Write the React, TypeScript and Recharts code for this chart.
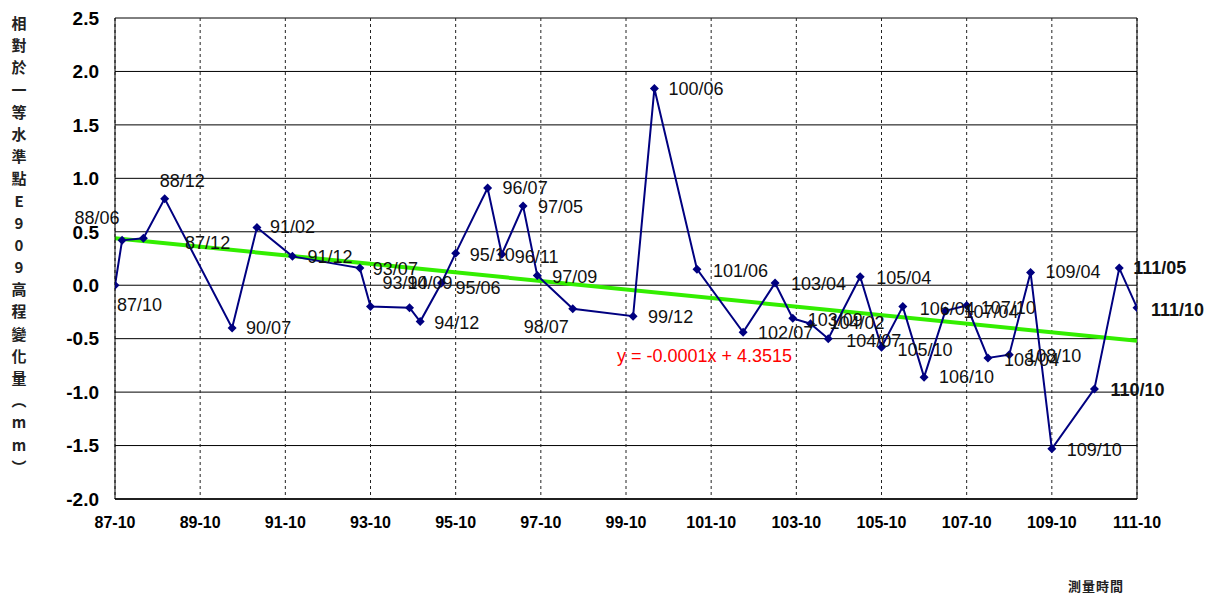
import React from "react";
import {
    LineChart,
    Line,
    XAxis,
    YAxis,
    CartesianGrid,
    ReferenceLine,
    LabelList,
} from "recharts";

// survey dates (ROC year / month) and elevation change (mm)
const dates = [
    "87/10", "87/12", "88/06", "88/12", "90/07", "91/02", "91/12", "93/07", "93/10", "94/09",
    "94/12", "95/06", "95/10", "96/07", "96/11", "97/05", "97/09", "98/07", "99/12", "100/06",
    "101/06", "102/07", "103/04", "103/09", "104/02", "104/07", "105/04", "105/10", "106/04", "106/10",
    "107/04", "107/10", "108/04", "108/10", "109/04", "109/10", "110/10", "111/05", "111/10",
];
const values = [
    0.0, 0.42, 0.44, 0.81, -0.4, 0.54, 0.27, 0.16, -0.2, -0.21,
    -0.34, 0.02, 0.3, 0.91, 0.29, 0.74, 0.09, -0.22, -0.29, 1.84,
    0.15, -0.44, 0.02, -0.31, -0.36, -0.5, 0.08, -0.58, -0.2, -0.86,
    -0.24, -0.19, -0.68, -0.65, 0.12, -1.53, -0.97, 0.16, -0.21,
];

// linear trend, read at both ends of the axis
const trendDates = ["87/10", "111/10"];
const trendValues = [0.44, -0.52];

const xTickLabels = [
    "87-10", "89-10", "91-10", "93-10", "95-10", "97-10", "99-10",
    "101-10", "103-10", "105-10", "107-10", "109-10", "111-10",
];
const yTicks = [-2.0, -1.5, -1.0, -0.5, 0.0, 0.5, 1.0, 1.5, 2.0, 2.5];

const yTitle = ["相", "對", "於", "一", "等", "水", "準", "點", "E", "9", "0", "9", "高", "程", "變", "化", "量", "︵", "m", "m", "︶"];
const xTitle = "測量時間";
const equation = "y = -0.0001x + 4.3515";

// months since 87/10
const toMonth = (s: string) => {
    const [y, m] = s.split(/[/-]/).map(Number);
    return (y - 87) * 12 + (m - 10);
};

const rows = dates.map((d, i) => ({ m: toMonth(d), v: values[i], label: d }));
const trendRows = trendDates.map((d, i) => ({ m: toMonth(d), t: trendValues[i] }));
const xTicks = xTickLabels.map(toMonth);

// where each data label sits relative to its marker [dx, dy]
const labelOffset: Record<string, [number, number]> = {
    "87/10": [2, 20], "87/12": [63, 3], "88/06": [-69, -20], "88/12": [-5, -18],
    "90/07": [14, 0], "91/02": [13, -1], "91/12": [15, 1], "93/07": [13, 1],
    "93/10": [12, -24], "94/09": [-2, -25], "94/12": [14, 1], "95/06": [14, 5],
    "95/10": [14, 2], "96/07": [15, 0], "96/11": [13, 3], "97/05": [15, 1],
    "97/09": [15, 1], "98/07": [-49, 18], "99/12": [15, 1], "100/06": [14, 0],
    "101/06": [16, 2], "102/07": [15, 1], "103/04": [16, 1], "103/09": [15, 2],
    "104/02": [19, -1], "104/07": [18, 2], "105/04": [16, 1], "105/10": [16, 3],
    "106/04": [17, 2], "106/10": [15, 0], "107/04": [18, 1], "107/10": [14, 2],
    "108/04": [16, 2], "108/10": [17, 1], "109/04": [15, 0], "109/10": [15, 1],
    "110/10": [16, 1], "111/05": [14, 0], "111/10": [14, 2],
};
const boldLabels = ["110/10", "111/05", "111/10"];

const Diamond = (props: any) => {
    const { cx, cy } = props;
    if (cx == null || cy == null) return null;
    const r = 4.5;
    return (
        <polygon
            points={`${cx},${cy - r} ${cx + r},${cy} ${cx},${cy + r} ${cx - r},${cy}`}
            fill="#000080"
        />
    );
};

const PointLabel = (props: any) => {
    const { x, y, value } = props;
    if (x == null || y == null) return null;
    const [dx, dy] = labelOffset[value] || [14, 0];
    return (
        <text
            x={x + dx}
            y={y + dy}
            dominantBaseline="central"
            fontSize={18}
            fontWeight={boldLabels.includes(value) ? 700 : 400}
            fill="#111"
            fontFamily="'Liberation Sans', Arial, sans-serif"
        >
            {value}
        </text>
    );
};

export default function App() {
    return (
        <div
            style={{
                position: "absolute",
                left: 0,
                top: 0,
                width: 1226,
                height: 596,
                background: "#fff",
                fontFamily: "'Liberation Sans', Arial, sans-serif",
            }}
        >
            <LineChart
                width={1226}
                height={596}
                data={rows}
                margin={{ top: 18, right: 89, bottom: 67, left: 55 }}
            >
                <CartesianGrid vertical={false} stroke="#000" strokeWidth={1} />
                <CartesianGrid horizontal={false} stroke="#222" strokeDasharray="3 3" />
                <XAxis
                    type="number"
                    dataKey="m"
                    domain={[0, 288]}
                    ticks={xTicks}
                    tickFormatter={(m: number) => xTickLabels[xTicks.indexOf(m)] ?? ""}
                    axisLine={{ stroke: "#000", strokeWidth: 1.5 }}
                    tickLine={false}
                    tickMargin={12}
                    height={30}
                    tick={{ fill: "#000", fontSize: 16, fontWeight: 700 }}
                    allowDataOverflow
                />
                <YAxis
                    type="number"
                    domain={[-2, 2.5]}
                    ticks={yTicks}
                    tickFormatter={(v: number) => v.toFixed(1)}
                    axisLine={{ stroke: "#000", strokeWidth: 1 }}
                    tickLine={false}
                    tickMargin={10}
                    width={60}
                    tick={{ fill: "#000", fontSize: 19, fontWeight: 700 }}
                    allowDataOverflow
                />
                <ReferenceLine x={288} stroke="#000" strokeWidth={1} />
                <Line
                    data={trendRows}
                    dataKey="t"
                    type="linear"
                    stroke="#33ee00"
                    strokeWidth={4}
                    dot={false}
                    activeDot={false}
                    isAnimationActive={false}
                />
                <Line
                    dataKey="v"
                    type="linear"
                    stroke="#000080"
                    strokeWidth={2}
                    dot={<Diamond />}
                    activeDot={false}
                    isAnimationActive={false}
                >
                    <LabelList dataKey="label" content={<PointLabel />} />
                </Line>
            </LineChart>

            {/* vertical axis title */}
            <div style={{ position: "absolute", left: 8, top: 12, width: 22 }}>
                {yTitle.map((c, i) => (
                    <div
                        key={i}
                        style={{
                            height: 22.2,
                            lineHeight: "22.2px",
                            textAlign: "center",
                            fontSize: 15,
                            fontWeight: 700,
                            fontFamily: "'Noto Sans CJK TC', 'Noto Sans CJK SC', sans-serif",
                            color: "#222",
                        }}
                    >
                        {c}
                    </div>
                ))}
            </div>

            <div
                style={{
                    position: "absolute",
                    left: 617,
                    top: 346,
                    fontSize: 18,
                    color: "#ff0000",
                    whiteSpace: "nowrap",
                }}
            >
                {equation}
            </div>

            <div
                style={{
                    position: "absolute",
                    left: 1068,
                    top: 576,
                    fontSize: 13,
                    fontWeight: 700,
                    fontFamily: "'Noto Sans CJK TC', 'Noto Sans CJK SC', sans-serif",
                    color: "#222",
                    letterSpacing: 1,
                }}
            >
                {xTitle}
            </div>
        </div>
    );
}
